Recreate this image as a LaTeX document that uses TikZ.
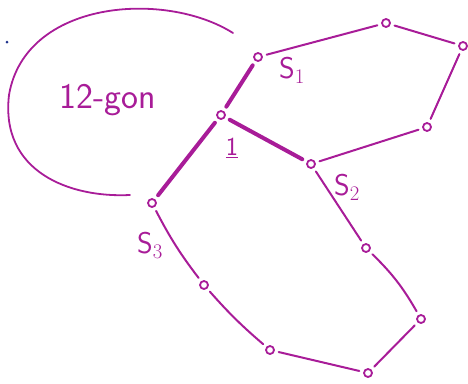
\documentclass[tikz,border=0pt]{standalone}
\usepackage{fontspec}
\definecolor{pen}{RGB}{168,28,152}
\definecolor{bluedot}{RGB}{30,50,140}
\begin{document}
\begin{tikzpicture}[x=1pt,y=-1pt,
  vtx/.style={circle,draw=pen,line width=1.8pt,inner sep=0pt,minimum size=8pt},
  edge/.style={draw=pen,line width=2pt,line cap=round,shorten <=4pt,shorten >=4pt},
  thick edge/.style={draw=pen,line width=4pt,line cap=round,shorten <=5pt,shorten >=5pt},
  lab/.style={text=pen,font=\sffamily\fontsize{30}{32}\selectfont}]
\useasboundingbox (0,0) rectangle (468,383);
% vertices
\node[vtx] (c) at (221,115) {};
\node[vtx] (s1) at (258,57) {};
\node[vtx] (s2) at (311,164) {};
\node[vtx] (s3) at (152,203) {};
\node[vtx] (t1) at (386,23) {};
\node[vtx] (t2) at (463,46) {};
\node[vtx] (t3) at (427,127) {};
\node[vtx] (b1) at (366,248) {};
\node[vtx] (b2) at (421,319) {};
\node[vtx] (b3) at (368,373) {};
\node[vtx] (b4) at (270,350) {};
\node[vtx] (b5) at (204,285) {};
% thick edges
\draw[thick edge] (c) -- (s1);
\draw[thick edge] (c) -- (s2);
\draw[thick edge] (c) -- (s3);
% hexagon
\draw[edge] (s1) -- (t1);
\draw[edge] (t1) -- (t2);
\draw[edge] (t2) -- (t3);
\draw[edge] (t3) -- (s2);
% lower loop
\draw[edge] (s2) -- (b1);
\draw[edge] (b1) to[bend left=8] (b2);
\draw[edge] (b2) -- (b3);
\draw[edge] (b3) -- (b4);
\draw[edge] (b4) to[bend left=4] (b5);
\draw[edge] (b5) to[bend left=5] (s3);
% big arc
\coordinate (a0) at (233,33);
\coordinate (a1) at (130,195);
\draw[pen,line width=1.8pt,line cap=round] (a0) .. controls (165,-10) and (25,0) .. (9,95)
  .. controls (0,172) and (70,198) .. (a1);
% labels
\node[lab] (l1) at (292,70) {S$_1$};
\node[lab] (l2) at (347,187) {S$_2$};
\node[lab] (l3) at (150,245) {S$_3$};
\node[lab,font=\sffamily\fontsize{26}{28}\selectfont] (one) at (232,148) {\underline{1}};
\node[lab,font=\sffamily\fontsize{36}{38}\selectfont] (gon) at (108,100) {12-gon};
\fill[bluedot] (7,42) circle (1.5);
\end{tikzpicture}
\end{document}
